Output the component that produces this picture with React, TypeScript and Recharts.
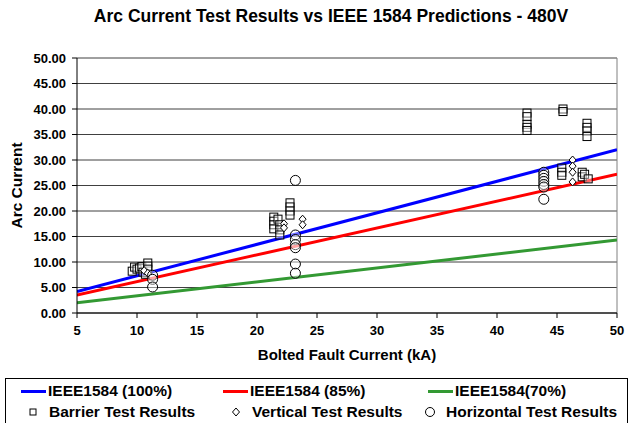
import React from 'react';
import { ComposedChart, Line, Scatter, XAxis, YAxis, CartesianGrid, ReferenceLine, Label } from 'recharts';

const xTicks = [5, 10, 15, 20, 25, 30, 35, 40, 45, 50];
const yTicks = [0, 5, 10, 15, 20, 25, 30, 35, 40, 45, 50];

// predicted arc current (kA) at the ends of the range
const ieee100 = [{ kA: 5, amps: 4.2 }, { kA: 50, amps: 32.0 }];
const ieee85 = [{ kA: 5, amps: 3.5 }, { kA: 50, amps: 27.2 }];
const ieee70 = [{ kA: 5, amps: 2.0 }, { kA: 50, amps: 14.3 }];

const barrier = [
  { kA: 9.6, amps: 8.2 }, { kA: 9.8, amps: 9.0 }, { kA: 10.0, amps: 8.6 }, { kA: 10.2, amps: 8.8 },
  { kA: 10.4, amps: 9.1 }, { kA: 10.5, amps: 8.0 }, { kA: 10.7, amps: 7.6 }, { kA: 10.9, amps: 9.8 },
  { kA: 10.9, amps: 9.2 }, { kA: 10.9, amps: 8.6 },
  { kA: 21.4, amps: 18.8 }, { kA: 21.4, amps: 18.0 }, { kA: 21.4, amps: 17.3 }, { kA: 21.4, amps: 16.5 },
  { kA: 21.75, amps: 18.4 }, { kA: 21.9, amps: 17.3 }, { kA: 21.9, amps: 16.3 }, { kA: 21.9, amps: 15.3 },
  { kA: 22.75, amps: 21.6 }, { kA: 22.75, amps: 20.8 }, { kA: 22.75, amps: 20.0 }, { kA: 22.75, amps: 19.2 },
  { kA: 42.5, amps: 39.2 }, { kA: 42.5, amps: 38.5 }, { kA: 42.5, amps: 37.0 }, { kA: 42.5, amps: 36.4 },
  { kA: 42.5, amps: 35.8 },
  { kA: 45.5, amps: 40.0 }, { kA: 45.5, amps: 39.5 }, { kA: 45.4, amps: 28.4 }, { kA: 45.4, amps: 27.6 },
  { kA: 45.4, amps: 27.0 },
  { kA: 47.5, amps: 37.2 }, { kA: 47.5, amps: 36.4 }, { kA: 47.5, amps: 35.7 }, { kA: 47.5, amps: 34.6 },
  { kA: 47.1, amps: 27.6 }, { kA: 47.1, amps: 26.7 }, { kA: 47.3, amps: 27.2 }, { kA: 47.6, amps: 26.3 },
];

const vertical = [
  { kA: 10.6, amps: 8.3 }, { kA: 10.9, amps: 7.8 },
  { kA: 22.25, amps: 17.5 }, { kA: 22.25, amps: 16.7 }, { kA: 23.8, amps: 18.4 }, { kA: 23.8, amps: 17.3 },
  { kA: 46.3, amps: 30.0 }, { kA: 46.3, amps: 28.8 }, { kA: 46.3, amps: 27.6 }, { kA: 46.3, amps: 25.7 },
];

const horizontal = [
  { kA: 11.3, amps: 7.4 }, { kA: 11.3, amps: 6.6 }, { kA: 11.3, amps: 5.1 },
  { kA: 23.2, amps: 26.0 }, { kA: 23.2, amps: 15.3 }, { kA: 23.2, amps: 14.4 }, { kA: 23.2, amps: 13.4 },
  { kA: 23.2, amps: 12.8 }, { kA: 23.2, amps: 9.6 }, { kA: 23.2, amps: 7.8 },
  { kA: 43.9, amps: 27.6 }, { kA: 43.9, amps: 27.0 }, { kA: 43.9, amps: 26.4 }, { kA: 43.9, amps: 25.8 },
  { kA: 43.9, amps: 25.2 }, { kA: 43.9, amps: 24.7 }, { kA: 43.9, amps: 22.3 },
];

const FONT = '"Liberation Sans", Arial, sans-serif';

const SquareDot = ({ cx, cy }: any) => (
  <rect x={cx - 4} y={cy - 4} width={8} height={8} fill="#fff" fillOpacity={0.4} stroke="#000" strokeWidth={1} />
);
const DiamondDot = ({ cx, cy }: any) => (
  <path d={`M${cx},${cy - 4} L${cx + 3.5},${cy} L${cx},${cy + 4} L${cx - 3.5},${cy} Z`} fill="#fff" stroke="#000" strokeWidth={1} />
);
const CircleDot = ({ cx, cy }: any) => (
  <circle cx={cx} cy={cy} r={5} fill="#fff" fillOpacity={0.4} stroke="#000" strokeWidth={1} />
);

const lineItems = [
  { label: 'IEEE1584 (100%)', color: '#0000ff', left: 15 },
  { label: 'IEEE1584 (85%)', color: '#ff0000', left: 217 },
  { label: 'IEEE1584(70%)', color: '#339933', left: 422 },
];
const markerItems = [
  { label: 'Barrier Test Results', kind: 'square', left: 17 },
  { label: 'Vertical Test Results', kind: 'diamond', left: 220 },
  { label: 'Horizontal Test Results', kind: 'circle', left: 414 },
];

const MarkerIcon = ({ kind }: { kind: string }) => (
  <svg width={26} height={12} style={{ display: 'block' }}>
    {kind === 'square' && <rect x={7} y={3} width={6} height={6} fill="#fff" stroke="#000" />}
    {kind === 'diamond' && <path d="M10,2 L13.5,6 L10,10 L6.5,6 Z" fill="#fff" stroke="#000" />}
    {kind === 'circle' && <circle cx={10} cy={6} r={4.5} fill="#fff" stroke="#000" />}
  </svg>
);

export default function App() {
  return (
    <div style={{ position: 'absolute', left: 0, top: 0, width: 632, height: 423, background: '#fff', fontFamily: FONT, overflow: 'hidden' }}>
      <div style={{ position: 'absolute', top: 6, left: 0, width: 662, textAlign: 'center', fontSize: 17.5, fontWeight: 'bold' }}>
        Arc Current Test Results vs IEEE 1584 Predictions - 480V
      </div>
      <ComposedChart width={632} height={423} margin={{ top: 58, right: 15, bottom: 80, left: 0 }}>
        <CartesianGrid vertical={false} stroke="#404040" />
        <XAxis
          type="number"
          dataKey="kA"
          domain={[5, 50]}
          ticks={xTicks}
          interval={0}
          allowDataOverflow
          height={30}
          stroke="#000"
          tickSize={5}
          tickMargin={8}
          tick={{ fill: '#000', fontSize: 13, fontWeight: 'bold', fontFamily: FONT }}
        >
          <Label value="Bolted Fault Current (kA)" position="bottom" offset={6} style={{ fill: '#000', fontSize: 15, fontWeight: 'bold', fontFamily: FONT }} />
        </XAxis>
        <YAxis
          type="number"
          dataKey="amps"
          domain={[0, 50]}
          ticks={yTicks}
          interval={0}
          width={77}
          stroke="#000"
          tickSize={5}
          tickMargin={6}
          tickFormatter={(v: number) => v.toFixed(2)}
          tick={{ fill: '#000', fontSize: 13, fontWeight: 'bold', fontFamily: FONT }}
        >
          <Label value="Arc Current" angle={-90} position="insideLeft" offset={16} style={{ fill: '#000', fontSize: 15.5, fontWeight: 'bold', fontFamily: FONT, textAnchor: 'middle' }} />
        </YAxis>
        <ReferenceLine x={50} stroke="#808080" />
        <Line data={ieee100} dataKey="amps" stroke="#0000ff" strokeWidth={3} dot={false} isAnimationActive={false} />
        <Line data={ieee85} dataKey="amps" stroke="#ff0000" strokeWidth={3} dot={false} isAnimationActive={false} />
        <Line data={ieee70} dataKey="amps" stroke="#339933" strokeWidth={3} dot={false} isAnimationActive={false} />
        <Scatter data={barrier} dataKey="amps" shape={SquareDot} isAnimationActive={false} />
        <Scatter data={vertical} dataKey="amps" shape={DiamondDot} isAnimationActive={false} />
        <Scatter data={horizontal} dataKey="amps" shape={CircleDot} isAnimationActive={false} />
      </ComposedChart>
      <div style={{ position: 'absolute', left: 5, top: 378, width: 623, height: 50, border: '1px solid #000', boxSizing: 'border-box', fontSize: 15.5, fontWeight: 'bold' }}>
        {lineItems.map((it) => (
          <div key={it.label} style={{ position: 'absolute', left: it.left, top: 3, display: 'flex', alignItems: 'center', whiteSpace: 'nowrap' }}>
            <span style={{ display: 'inline-block', width: 25, height: 3, background: it.color, marginRight: 2 }} />
            {it.label}
          </div>
        ))}
        {markerItems.map((it) => (
          <div key={it.label} style={{ position: 'absolute', left: it.left, top: 24, display: 'flex', alignItems: 'center', whiteSpace: 'nowrap' }}>
            <MarkerIcon kind={it.kind} />
            {it.label}
          </div>
        ))}
      </div>
    </div>
  );
}
